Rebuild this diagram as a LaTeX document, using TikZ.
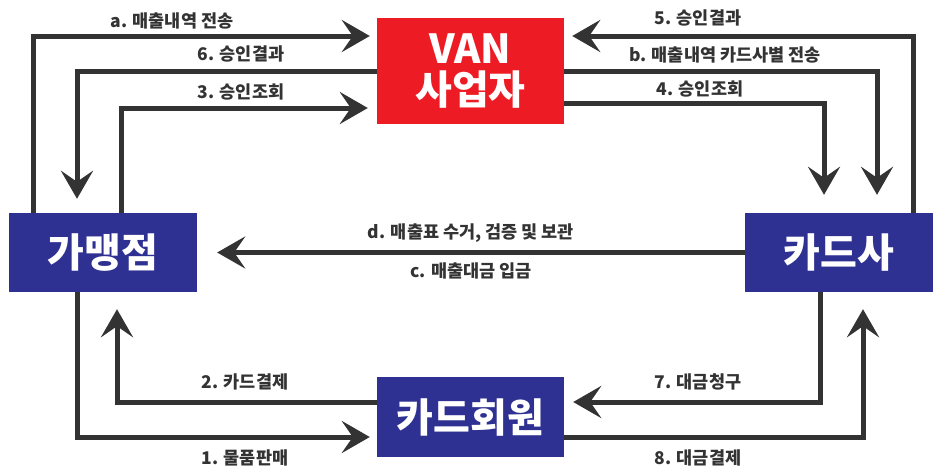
\documentclass[tikz,border=0pt]{standalone}
\usepackage{fontspec}
\setmainfont{Noto Sans CJK KR}
\usetikzlibrary{arrows.meta,calc}
\definecolor{vanred}{HTML}{ED1C24}
\definecolor{navy}{HTML}{2E3192}
\definecolor{linec}{HTML}{333333}
\begin{document}
\begin{tikzpicture}[x=1pt,y=-1pt,
  box/.style={fill=#1, text=white, font=\fontsize{40}{41}\selectfont\bfseries, align=center, inner sep=0pt},
  conn/.style={draw=linec, line width=5pt, -{Stealth[length=28pt,width=32pt,inset=11pt]}, line join=miter},
  lbl/.style={text=linec, font=\fontsize{17.5}{20}\selectfont\bfseries, inner sep=0pt}]
\useasboundingbox[fill=white] (0,0) rectangle (939,469);
% boxes
\node[box=vanred, minimum width=187pt, minimum height=106pt] (van) at (470.5,71) {VAN\\사업자};
\node[box=navy, minimum width=188pt, minimum height=79pt] (gm) at (103,252.5) {가맹점};
\node[box=navy, minimum width=188pt, minimum height=79pt] (ks) at (839,252.5) {카드사};
\node[box=navy, minimum width=187pt, minimum height=80pt] (km) at (470.5,417) {카드회원};
% corner coordinates
\coordinate (ca) at (33,36);
\coordinate (c6) at (77,71);
\coordinate (c3) at (121,108);
\coordinate (c5) at (913,36);
\coordinate (cb) at (877,71);
\coordinate (c4) at (824,103);
\coordinate (c2) at (117,402);
\coordinate (c1) at (77,437);
\coordinate (c7) at (820,402);
\coordinate (c8) at (863,437);
% connectors
\draw[conn, shorten >=7pt] (gm.north -| ca) -- (ca) -- (van.west |- ca);
\draw[conn, shorten >=14pt] (van.west |- c6) -- (c6) -- (gm.north -| c6);
\draw[conn, shorten >=9pt] (gm.north -| c3) -- (c3) -- (van.west |- c3);
\draw[conn, shorten >=8pt] (ks.north -| c5) -- (c5) -- (van.east |- c5);
\draw[conn, shorten >=18pt] (van.east |- cb) -- (cb) -- (ks.north -| cb);
\draw[conn, shorten >=18pt] (van.east |- c4) -- (c4) -- (ks.north -| c4);
\draw[conn, shorten >=20pt] (ks.west) -- (gm.east);
\draw[conn, shorten >=17pt] (km.west |- c2) -- (c2) -- (gm.south -| c2);
\draw[conn, shorten >=7pt] (gm.south -| c1) -- (c1) -- (km.west |- c1);
\draw[conn, shorten >=9pt] (ks.south -| c7) -- (c7) -- (km.east |- c7);
\draw[conn, shorten >=17pt] (km.east |- c8) -- (c8) -- (ks.south -| c8);
% labels
\node[lbl] (la) at (172,21) {a. 매출내역 전송};
\node[lbl] (l6) at (241,54) {6. 승인결과};
\node[lbl] (l3) at (241,92) {3. 승인조회};
\node[lbl] (l5) at (698,18) {5. 승인결과};
\node[lbl] (lb) at (725,55) {b. 매출내역 카드사별 전송};
\node[lbl] (l4) at (700,89) {4. 승인조회};
\node[lbl] (ld) at (471,233) {d. 매출표 수거, 검증 및 보관};
\node[lbl] (lc) at (471,271) {c. 매출대금 입금};
\node[lbl] (l2) at (245,382) {2. 카드결제};
\node[lbl] (l1) at (245,458) {1. 물품판매};
\node[lbl] (l7) at (698,382) {7. 대금청구};
\node[lbl] (l8) at (698,458) {8. 대금결제};
\end{tikzpicture}
\end{document}
